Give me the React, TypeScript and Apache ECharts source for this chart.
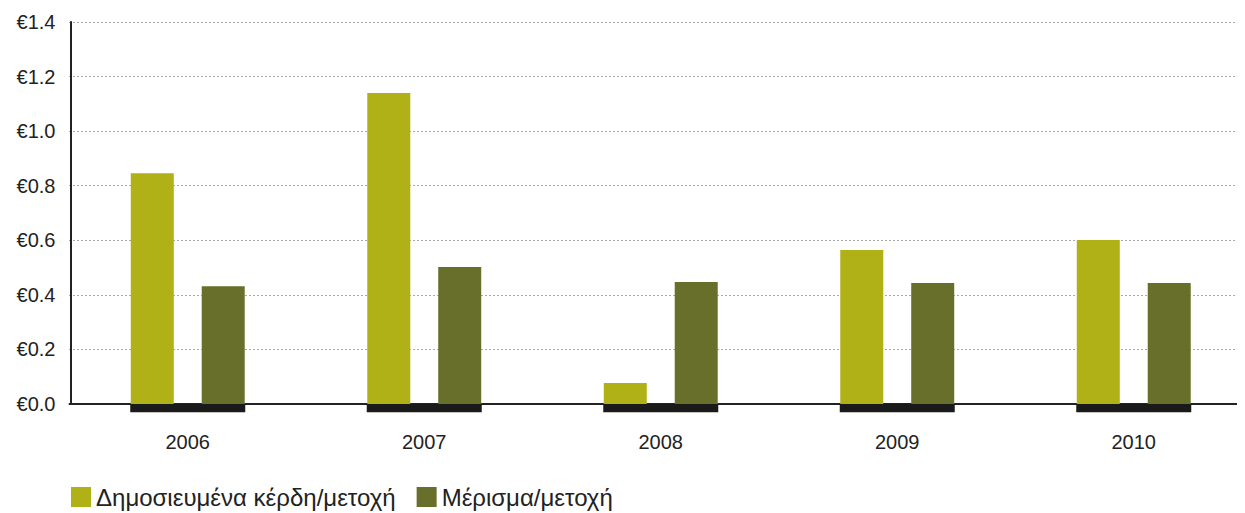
import React, { useEffect, useRef } from "react";
import * as echarts from "echarts";

const years = ["2006", "2007", "2008", "2009", "2010"];
const earnings = [0.846, 1.14, 0.077, 0.564, 0.601];
const dividend = [0.432, 0.502, 0.447, 0.443, 0.443];
const baseBars = [-0.03, -0.03, -0.03, -0.03, -0.03];
const seriesNames = ["Δημοσιευμένα κέρδη/μετοχή", "Μέρισμα/μετοχή"];

export default function App() {
  const ref = useRef<HTMLDivElement>(null);
  useEffect(() => {
    if (!ref.current) return;
    const chart = echarts.init(ref.current, null, { renderer: "svg" });
    const font = "'Liberation Sans', Arial, sans-serif";
    chart.setOption({
      animation: false,
      textStyle: { fontFamily: font },
      grid: { left: 69.5, width: 1182.5, top: 22, bottom: 109, outerBoundsMode: "none", containLabel: false },
      legend: {
        data: seriesNames,
        left: 66,
        top: 480,
        itemWidth: 20,
        itemHeight: 20,
        itemGap: 21,
        icon: "rect",
        textStyle: { fontSize: 24, color: "#222", fontFamily: font },
      },
      xAxis: [
        {
          type: "category",
          data: years,
          axisLine: { show: true, lineStyle: { color: "#222", width: 2 } },
          axisTick: { show: false },
          axisLabel: { fontSize: 20, color: "#222", margin: 28, fontFamily: font },
          splitLine: { show: false },
        },
        {
          type: "category",
          data: years,
          show: false,
          position: "bottom",
        },
      ],
      yAxis: {
        type: "value",
        min: 0,
        max: 1.4,
        interval: 0.2,
        offset: -1,
        axisLine: { show: true, lineStyle: { color: "#222", width: 2 } },
        axisTick: { show: false },
        axisLabel: {
          fontSize: 20,
          color: "#222",
          margin: 15,
          fontFamily: font,
          formatter: (v: number) => "€" + v.toFixed(1),
        },
        splitLine: { show: true, lineStyle: { color: "#555", type: [1, 3], width: 1 } },
      },
      series: [
        {
          name: seriesNames[0],
          type: "bar",
          data: earnings,
          itemStyle: { color: "#B0B017" },
          barWidth: 43,
          barGap: "65%",
          barCategoryGap: "52%",
          xAxisIndex: 0,
          z: 3,
        },
        {
          name: seriesNames[1],
          type: "bar",
          data: dividend,
          itemStyle: { color: "#676F2A" },
          barWidth: 43,
          barGap: "65%",
          xAxisIndex: 0,
          z: 3,
        },
        {
          name: "base",
          type: "bar",
          data: baseBars,
          xAxisIndex: 1,
          barWidth: 115,
          clip: false,
          itemStyle: { color: "#1a1a1a" },
          z: 1,
          silent: true,
        },
      ],
    });
    return () => chart.dispose();
  }, []);
  return <div ref={ref} style={{ width: 1245, height: 513, margin: "-8px 0 0 -8px" }} />;
}
